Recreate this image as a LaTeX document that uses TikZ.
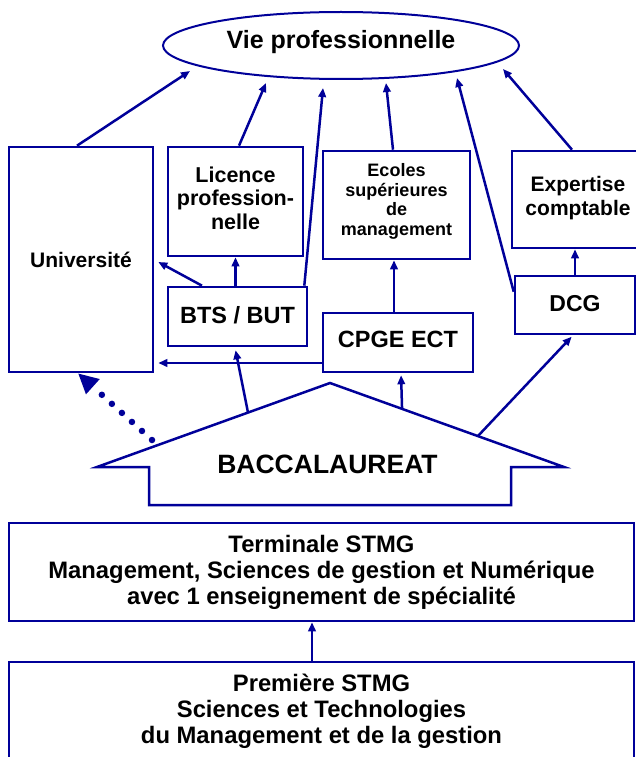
\documentclass[tikz,border=0pt]{standalone}
\usepackage{fontspec}
\setmainfont{Liberation Sans}
\usetikzlibrary{arrows.meta,calc,shapes.geometric}
\definecolor{navy}{RGB}{0,0,153}
\begin{document}
\begin{tikzpicture}[x=1pt,y=-1pt,
  bx/.style={draw=navy, line width=2.6pt, fill=white, inner sep=0pt, align=center, text=black},
  arr/.style={navy, line width=2.5pt, -{Triangle[length=9pt,width=7.5pt]}},
  dotarr/.style={navy, line width=6.5pt, line cap=round, dash pattern=on 0pt off 13.5pt, -{Triangle[length=20pt,width=19pt]}},
  fA/.style={font=\bfseries\fontsize{23.5}{26}\selectfont}
]
\useasboundingbox (0,0) rectangle (636,757);
\clip (0,0) rectangle (636,757);
\fill[white] (0,0) rectangle (636,757);

% top ellipse
\node[ellipse, draw=navy, line width=2pt, minimum width=356pt, minimum height=67pt, inner sep=0pt,
  font=\bfseries\fontsize{25}{30}\selectfont, text height=18pt, text depth=11pt] (vie) at (341,45.5) {Vie professionnelle};

% boxes
\node[bx, minimum width=144pt, minimum height=225pt, font=\bfseries\fontsize{21}{24}\selectfont] (univ) at (81,259.5) {Université};
\node[bx, minimum width=135pt, minimum height=109pt, font=\bfseries\fontsize{21.5}{23.3}\selectfont, text depth=6.7pt] (lic) at (235.5,201.5) {Licence\\profession-\\nelle};
\node[bx, fA, minimum width=139pt, minimum height=59pt, text depth=3.6pt] (bts) at (237.5,316.5) {BTS / BUT};
\node[bx, minimum width=147pt, minimum height=108pt, font=\bfseries\fontsize{18}{19.5}\selectfont, text depth=11pt] (ecoles) at (396.5,205) {Ecoles\\supérieures\\de\\management};
\node[bx, fA, minimum width=150pt, minimum height=59pt, text depth=5.6pt] (cpge) at (398,342.5) {CPGE ECT};
\node[bx, minimum width=132pt, minimum height=97pt, font=\bfseries\fontsize{21}{24.3}\selectfont, text depth=6.6pt] (exp) at (578,199.5) {Expertise\\comptable};
\node[bx, font=\bfseries\fontsize{23}{26}\selectfont, minimum width=120pt, minimum height=58pt, text depth=3.4pt] (dcg) at (575,305) {DCG};
\node[bx, minimum width=625pt, minimum height=98pt, font=\bfseries\fontsize{23.8}{26}\selectfont] (term) at (321.5,572) {Terminale STMG\\Management, Sciences de gestion et Numérique\\avec 1 enseignement de spécialité};
\node[bx, minimum width=625pt, minimum height=98.5pt, font=\bfseries\fontsize{23.8}{25.6}\selectfont] (prem) at (321.5,711.25) {Première STMG\\Sciences et Technologies\\du Management et de la gestion};

% baccalaureat arrow shape
\coordinate (bacL) at (97,467);
\coordinate (bacT) at (330,383);
\coordinate (bacR) at (564,467);
\draw[navy, line width=2.5pt, fill=white, line join=miter] (bacL) -- (bacT) -- (bacR) -- (511,467) -- (511,505) -- (149,505) -- (149,467) -- cycle;
\node[font=\bfseries\fontsize{26.5}{30}\selectfont, inner sep=0pt] (bac) at (327.5,464.5) {BACCALAUREAT};
\coordinate (b1) at ($(bacL)!0.648!(bacT)$);
\coordinate (b2) at ($(bacT)!0.308!(bacR)$);
\coordinate (b3) at ($(bacT)!0.632!(bacR)$);
\coordinate (b0) at (152,440);

% connectors to Vie professionnelle
\draw[arr] ([xshift=-4pt]univ.north) -- ([shift={(-151,25.5)}]vie.center);
\draw[arr] ([xshift=3.5pt]lic.north) -- ([shift={(-75,37.5)}]vie.center);
\draw[arr] ([xshift=-4pt]bts.north east) -- ([shift={(-18,42.5)}]vie.center);
\draw[arr] ([xshift=-3.5pt]ecoles.north) -- ([shift={(45,37.5)}]vie.center);
\draw[arr] ([yshift=-17pt]dcg.north west) -- ([shift={(116,32.5)}]vie.center);
\draw[arr] ([xshift=-6pt]exp.north) -- ([shift={(162,23.5)}]vie.center);

% inner connectors
\draw[arr] ([xshift=-35.5pt]bts.north) -- ([shift={(4,2.5)}]univ.east);
\draw[arr] (lic.south |- bts.north) -- (lic.south);
\coordinate (c9) at ([yshift=-20.5pt]cpge.west);
\draw[arr, shorten >=4pt] (c9) -- (c9 -| univ.east);
\draw[arr] ([xshift=-4pt]cpge.north) -- ([xshift=-2.5pt]ecoles.south);
\draw[arr] (dcg.north) -- (dcg.north |- exp.south);
\draw[arr, shorten >=3pt] (b1) -- ([xshift=-2.5pt]bts.south);
\draw[arr, shorten >=2pt] (b2) -- ([xshift=3pt]cpge.south);
\draw[arr, shorten >=2pt] (b3) -- ([xshift=-2pt]dcg.south);
\draw[dotarr] (b0) -- ([xshift=-3pt]univ.south);
\coordinate (c16) at ([xshift=-9.5pt]prem.north);
\draw[arr] (c16) -- (c16 |- term.south);
\end{tikzpicture}
\end{document}
